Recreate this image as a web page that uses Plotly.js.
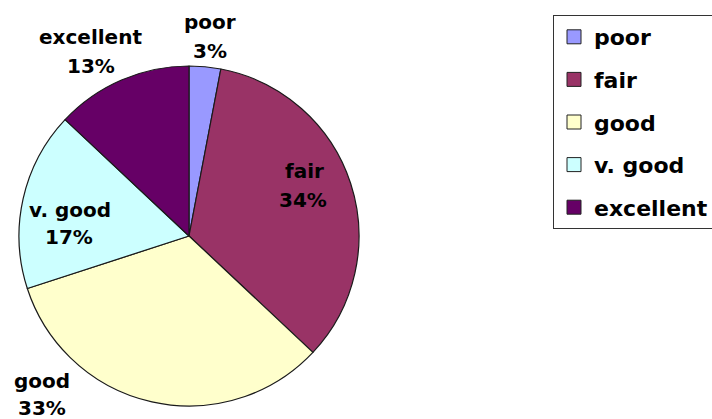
<!DOCTYPE html>
<html>
<head>
<meta charset="utf-8">
<script src="https://cdn.plot.ly/plotly-3.0.1.min.js"></script>
<style>html,body{margin:0;padding:0;background:#fff;}#chart{width:712px;height:419px;}</style>
</head>
<body>
<div id="chart"></div>
<script>
// ---- data ----
var categories = ["poor", "fair", "good", "v. good", "excellent"];
var values = [3, 34, 33, 17, 13];

// ---- styles / layout constants ----
var sliceColors = ["#9999FF", "#993366", "#FFFFCC", "#CCFFFF", "#660066"];
var W = 712, H = 419;
// label placement (pixel centers: [nameX, nameY, pctX, pctY])
var labelPlacement = [
  [210, 22, 210, 51],
  [304, 171, 303, 200],
  [42, 381, 42, 408],
  [70, 210, 69, 237],
  [90, 37, 91, 66]
];
var FONT = "DejaVu Sans, Arial, sans-serif";

var total = values.reduce(function(a, b){ return a + b; }, 0);
var pctText = values.map(function(v){ return Math.round(v / total * 100) + "%"; });

var traces = [{
  type: "pie",
  labels: categories,
  values: values,
  sort: false,
  direction: "clockwise",
  rotation: 0,
  textinfo: "none",
  hoverinfo: "label+percent",
  showlegend: false,
  marker: { colors: sliceColors, line: { color: "#1a1a1a", width: 1.2 } },
  domain: { x: [19 / W, 359 / W], y: [(H - 406) / H, (H - 66) / H] }
}];

// legend entries (one per category)
categories.forEach(function(c, i){
  traces.push({
    type: "scatter",
    mode: "markers",
    x: [null], y: [null],
    name: c,
    legendgroup: "g" + i,
    showlegend: true,
    hoverinfo: "skip",
    marker: { symbol: "square", size: 14, color: sliceColors[i], line: { color: "#222222", width: 1 } }
  });
});

var annotations = [];
categories.forEach(function(c, i){
  var p = labelPlacement[i];
  annotations.push({
    xref: "paper", yref: "paper", x: p[0] / W, y: 1 - p[1] / H,
    xanchor: "center", yanchor: "middle", showarrow: false,
    text: "<b>" + c + "</b>",
    font: { family: FONT, size: 20, color: "#000" }
  });
  annotations.push({
    xref: "paper", yref: "paper", x: p[2] / W, y: 1 - p[3] / H,
    xanchor: "center", yanchor: "middle", showarrow: false,
    text: "<b>" + pctText[i] + "</b>",
    font: { family: FONT, size: 20, color: "#000" }
  });
});

var layout = {
  width: W, height: H,
  margin: { l: 0, r: 0, t: 0, b: 0, autoexpand: false },
  paper_bgcolor: "#fff", plot_bgcolor: "#fff",
  xaxis: { visible: false }, yaxis: { visible: false },
  showlegend: true,
  legend: {
    x: 553 / W, y: 1 - 15 / H, xanchor: "left", yanchor: "top",
    bgcolor: "#fff", bordercolor: "#333", borderwidth: 1,
    font: { family: FONT, size: 22, color: "#000", weight: "bold" },
    traceorder: "grouped", tracegroupgap: 11
  },
  annotations: annotations
};

Plotly.newPlot("chart", traces, layout, { displayModeBar: false, staticPlot: true });
</script>
</body>
</html>
